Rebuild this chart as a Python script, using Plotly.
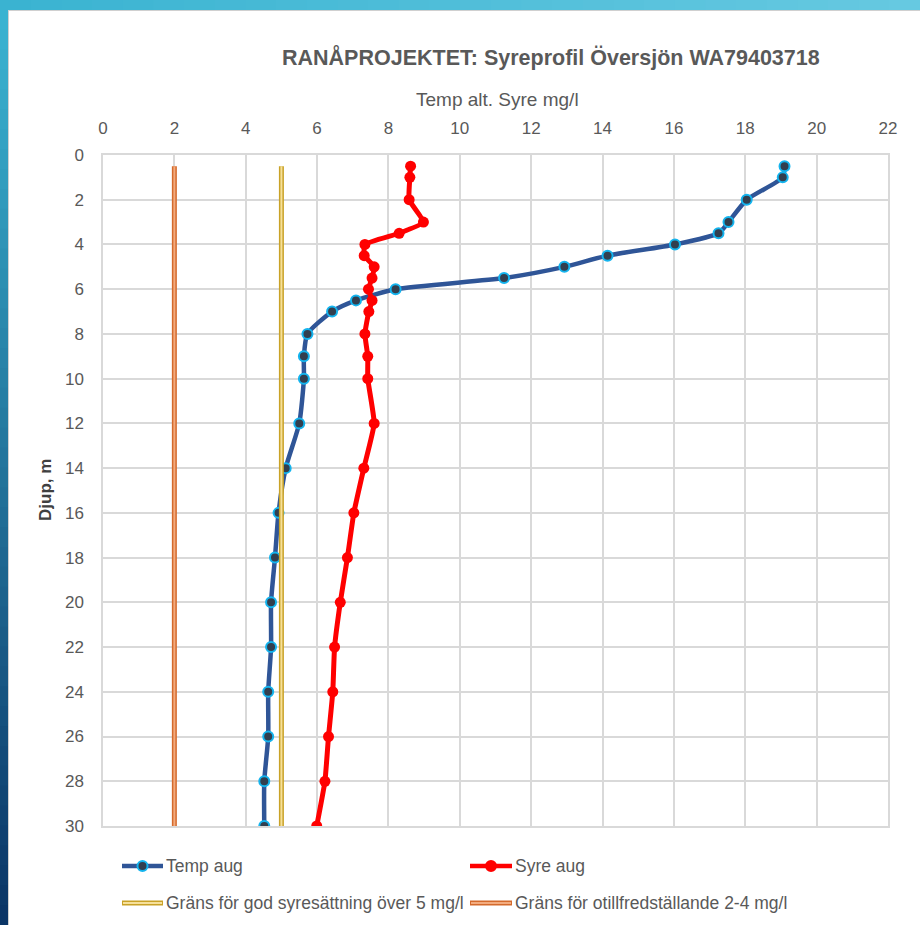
import plotly.graph_objects as go

# ---------------- data ----------------
depth = [0.5, 1, 2, 3, 3.5, 4, 4.5, 5, 5.5, 6, 6.5, 7, 8, 9, 10, 12, 14, 16, 18, 20, 22, 24, 26, 28, 30]
temp_aug = [19.1, 19.05, 18.04, 17.53, 17.25, 16.03, 14.14, 12.93, 11.24, 8.2, 7.09, 6.42, 5.73, 5.63, 5.63,
            5.5, 5.12, 4.92, 4.82, 4.71, 4.71, 4.63, 4.63, 4.52, 4.52]
syre_aug = [8.62, 8.6, 8.58, 8.98, 8.3, 7.34, 7.32, 7.6, 7.54, 7.44, 7.54, 7.45, 7.34, 7.42, 7.42,
            7.6, 7.31, 7.03, 6.85, 6.65, 6.49, 6.44, 6.32, 6.22, 5.99]
limit_depth = [0.5, 30]
limit_good = [5, 5]
limit_poor = [2, 2]

title_text = "RANÅPROJEKTET: Syreprofil Översjön WA79403718"
x_title = "Temp alt. Syre mg/l"
y_title = "Djup, m"
legend_names = ["Temp aug", "Syre aug",
                "Gräns för god syresättning över 5 mg/l",
                "Gräns för otillfredställande 2-4 mg/l"]

W, H = 920, 925
L, R, T, B = 103, 888, 155, 826
FONT = "Liberation Sans"
GRAY = "#595959"

def px(x):
    return (x - L) / (R - L)

def py(y):
    return (B - y) / (B - T)

BLUE, BLUE_EDGE, BLUE_FILL = "#2f5597", "#14b4ee", "#323f4f"
RED = "#ff0000"
YEL_OUT, YEL_IN = "#c9a227", "#f6e09a"
ORA_OUT, ORA_IN = "#d46a2c", "#f3ab7e"

fig = go.Figure()
fig.add_trace(go.Scatter(x=temp_aug, y=depth, mode="lines+markers", name=legend_names[0],
                         line=dict(color=BLUE, width=4.5, shape="spline", smoothing=0.6),
                         marker=dict(size=10, color=BLUE_FILL, line=dict(color=BLUE_EDGE, width=2))))
fig.add_trace(go.Scatter(x=syre_aug, y=depth, mode="lines+markers", name=legend_names[1],
                         line=dict(color=RED, width=5, shape="spline", smoothing=0.4),
                         marker=dict(size=11, color=RED)))
for xs, co, ci, nm in [(limit_good, YEL_OUT, YEL_IN, legend_names[2]),
                       (limit_poor, ORA_OUT, ORA_IN, legend_names[3])]:
    fig.add_trace(go.Scatter(x=xs, y=limit_depth, mode="lines", name=nm,
                             line=dict(color=co, width=5)))
    fig.add_trace(go.Scatter(x=xs, y=limit_depth, mode="lines", name=nm, showlegend=False,
                             line=dict(color=ci, width=2)))

shapes = []
n = 30
def lerp(c1, c2, t):
    a = [int(c1[i:i + 2], 16) for i in (1, 3, 5)]
    b = [int(c2[i:i + 2], 16) for i in (1, 3, 5)]
    return "#%02x%02x%02x" % tuple(round(a[k] + (b[k] - a[k]) * t) for k in range(3))
for i in range(n):
    x0 = W * i / n
    x1 = W * (i + 1) / n + 1
    shapes.append(dict(type="rect", xref="paper", yref="paper", x0=px(x0), x1=px(x1), y0=py(10), y1=py(-1),
                       fillcolor=lerp("#3ab3d1", "#66c9e1", i / (n - 1)), line=dict(width=0), layer="above"))
m = 46
for i in range(m):
    y0 = 10 + (H - 10) * i / m
    y1 = 10 + (H - 10) * (i + 1) / m + 1
    shapes.append(dict(type="rect", xref="paper", yref="paper", x0=px(-1), x1=px(8), y0=py(y1), y1=py(y0),
                       fillcolor=lerp("#3ab3d1", "#0b3566", i / (m - 1)), line=dict(width=0), layer="above"))
shapes.append(dict(type="line", xref="paper", yref="paper", x0=px(8), x1=px(W), y0=py(10.5), y1=py(10.5),
                   line=dict(color="#d0d0d0", width=1)))
shapes.append(dict(type="line", xref="paper", yref="paper", x0=px(8.5), x1=px(8.5), y0=py(10), y1=py(H),
                   line=dict(color="#d0d0d0", width=1)))

# legend (manual)
annotations = []
rows = [(866, [(122, 163, BLUE, None, legend_names[0]), (470, 512, RED, None, legend_names[1])]),
        (903, [(122, 163, YEL_OUT, YEL_IN, legend_names[2]), (470, 512, ORA_OUT, ORA_IN, legend_names[3])])]
for yy, items in rows:
    for x0, x1, co, ci, nm in items:
        shapes.append(dict(type="line", xref="paper", yref="paper", x0=px(x0), x1=px(x1), y0=py(yy), y1=py(yy),
                           line=dict(color=co, width=4.5 if ci is None else 5)))
        if ci is not None:
            shapes.append(dict(type="line", xref="paper", yref="paper", x0=px(x0 + 1), x1=px(x1 - 1),
                               y0=py(yy), y1=py(yy), line=dict(color=ci, width=2)))
        else:
            cx = (x0 + x1) / 2
            r = 5
            fill = BLUE_FILL if co == BLUE else RED
            edge = BLUE_EDGE if co == BLUE else RED
            shapes.append(dict(type="circle", xref="paper", yref="paper", x0=px(cx - r), x1=px(cx + r),
                               y0=py(yy + r), y1=py(yy - r), fillcolor=fill, line=dict(color=edge, width=2)))
        annotations.append(dict(xref="paper", yref="paper", x=px(x1 + 1), y=py(yy), text=nm, showarrow=False,
                                xanchor="left", yanchor="middle", font=dict(family=FONT, size=17.5, color=GRAY)))

annotations.append(dict(xref="paper", yref="paper", x=px(551), y=py(57), text="<b>" + title_text + "</b>",
                        showarrow=False, xanchor="center", yanchor="middle",
                        font=dict(family=FONT, size=21.5, color=GRAY)))
annotations.append(dict(xref="paper", yref="paper", x=px(497), y=py(100), text=x_title,
                        showarrow=False, xanchor="center", yanchor="middle",
                        font=dict(family=FONT, size=19, color=GRAY)))
annotations.append(dict(xref="paper", yref="paper", x=px(45), y=py(490), text="<b>" + y_title + "</b>",
                        textangle=-90, showarrow=False, xanchor="center", yanchor="middle",
                        font=dict(family=FONT, size=17, color="#404040")))

fig.update_layout(
    width=W, height=H,
    margin=dict(l=L, r=W - R, t=T, b=H - B),
    paper_bgcolor="white", plot_bgcolor="white",
    showlegend=False,
    shapes=shapes, annotations=annotations,
    xaxis=dict(range=[0, 22], dtick=2, tick0=0, side="top", showgrid=True, gridcolor="#d9d9d9", gridwidth=1.5,
               zeroline=False, showline=True, linecolor="#d9d9d9", linewidth=1.5, mirror=True,
               ticks="", ticklabelstandoff=12, tickfont=dict(family=FONT, size=17, color=GRAY)),
    yaxis=dict(range=[30, 0], dtick=2, tick0=0, showgrid=True, gridcolor="#d9d9d9", gridwidth=1.5,
               zeroline=False, showline=True, linecolor="#d9d9d9", linewidth=1.5, mirror=True,
               ticks="", ticklabelstandoff=14, tickfont=dict(family=FONT, size=17, color=GRAY)),
)

fig.write_html("out.html", config={"displayModeBar": False},
               post_script="document.body.style.margin='0';document.body.style.overflow='hidden';")
